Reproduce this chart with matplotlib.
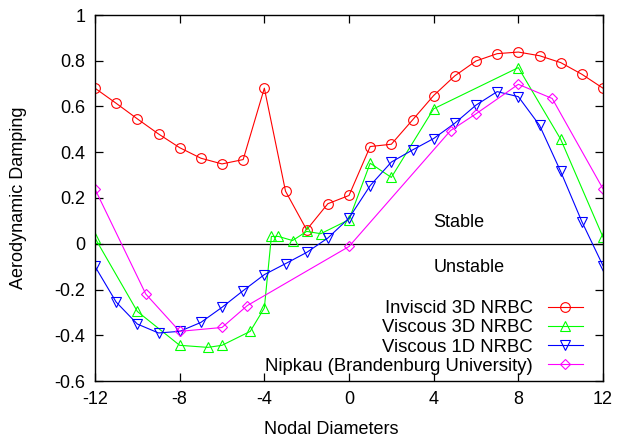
import matplotlib
matplotlib.use('Agg')
import matplotlib.pyplot as plt
import numpy as np

plt.rcParams['font.family'] = ['Liberation Sans', 'DejaVu Sans']
plt.rcParams['axes.unicode_minus'] = False

# Inviscid 3D NRBC
inv_x = [-12, -11, -10, -9, -8, -7, -6, -5, -4, -3, -2, -1, 0, 1, 2, 3, 4, 5, 6, 7, 8, 9, 10, 11, 12]
inv_y = [0.68, 0.614, 0.546, 0.48, 0.42, 0.374, 0.349, 0.368, 0.68, 0.23, 0.061, 0.175, 0.211,
         0.425, 0.435, 0.541, 0.648, 0.734, 0.799, 0.831, 0.838, 0.822, 0.792, 0.741, 0.68]

# Viscous 3D NRBC
v3_x = [-12, -10, -8, -20/3, -6, -14/3, -4, -11/3, -10/3, -8/3, -2, -4/3, 0, 1, 2, 4, 8, 10, 12]
v3_y = [0.025, -0.296, -0.444, -0.453, -0.444, -0.383, -0.281, 0.032, 0.032, 0.014, 0.054, 0.044,
        0.105, 0.352, 0.29, 0.59, 0.77, 0.457, 0.029]

# Viscous 1D NRBC
v1_x = [-12, -11, -10, -9, -8, -7, -6, -5, -4, -3, -2, -1, 0, 1, 2, 3, 4, 5, 6, 7, 8, 9, 10, 11, 12]
v1_y = [-0.099, -0.255, -0.351, -0.39, -0.383, -0.344, -0.278, -0.205, -0.135, -0.087, -0.038, 0.025,
        0.112, 0.254, 0.357, 0.41, 0.46, 0.527, 0.606, 0.665, 0.643, 0.518, 0.316, 0.097, -0.096]

# Nipkau (Brandenburg University)
nip_x = [-12, -9.6, -8, -6, -4.8, 0, 4.8, 6, 8, 9.6, 12]
nip_y = [0.239, -0.22, -0.383, -0.366, -0.27, -0.012, 0.495, 0.568, 0.697, 0.635, 0.24]

fs = 13

fig = plt.figure(figsize=(6.18, 4.38), dpi=100)
ax = fig.add_axes([95/618, 57/438, 508/618, 366/438])

lw = 0.8
ax.plot(inv_x, inv_y, color='#ff0000', lw=lw, marker='o', ms=7, mfc='none', mew=0.8,
        label='Inviscid 3D NRBC')
ax.plot(v3_x, v3_y, color='#00ff00', lw=lw, marker='^', ms=6.5, mfc='none', mew=0.8,
        label='Viscous 3D NRBC')
ax.plot(v1_x, v1_y, color='#0000ff', lw=lw, marker='v', ms=6.5, mfc='none', mew=0.8,
        label='Viscous 1D NRBC')
ax.plot(nip_x, nip_y, color='#ff00ff', lw=lw, marker='D', ms=5, mfc='none', mew=0.8,
        label='Nipkau (Brandenburg University)')

ax.axhline(0, color='black', lw=0.9, zorder=1)

ax.text(4, 0.095, 'Stable', fontsize=fs, va='center', ha='left')
ax.text(4, -0.105, 'Unstable', fontsize=fs, va='center', ha='left')

ax.set_xlim(-12, 12)
ax.set_ylim(-0.6, 1)
ax.set_xticks(np.arange(-12, 13, 4))
ax.set_yticks(np.arange(-0.6, 1.01, 0.2))
ax.set_yticklabels(['-0.6', '-0.4', '-0.2', '0', '0.2', '0.4', '0.6', '0.8', '1'])
ax.tick_params(direction='in', top=True, right=True, length=6, width=0.9, labelsize=fs, pad=7)
for s in ax.spines.values():
    s.set_linewidth(1.0)

ax.set_xlabel('Nodal Diameters', fontsize=fs)
ax.set_ylabel('Aerodynamic Damping', fontsize=fs)
ax.xaxis.set_label_coords(0.4646, -0.108)
ax.yaxis.set_label_coords(-0.134, 0.5)

ax.legend(loc='lower right', bbox_to_anchor=(0.96, 0.017), markerfirst=False, frameon=False,
          fontsize=13.3, handlelength=1.9, handletextpad=0.8, labelspacing=0.12,
          borderpad=0, borderaxespad=0)

fig.savefig('out.png', dpi=100)
